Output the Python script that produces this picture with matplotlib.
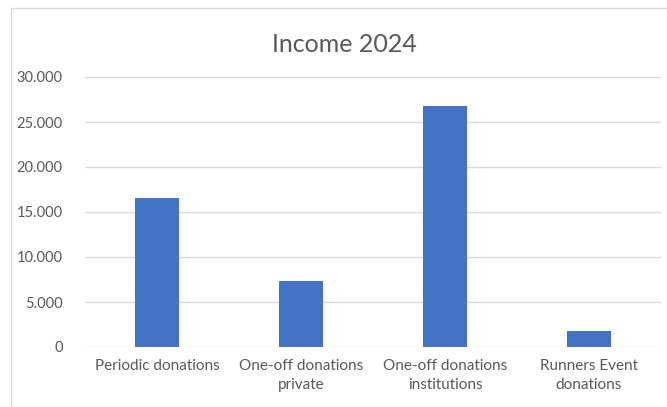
import numpy as np
import matplotlib
matplotlib.use("Agg")
import matplotlib.pyplot as plt
from matplotlib.ticker import FuncFormatter
from matplotlib.patches import Rectangle

# values (EUR)
categories = ["Periodic donations", "One-off donations\nprivate",
              "One-off donations\ninstitutions", "Runners Event\ndonations"]
income = [16600, 7280, 26750, 1800]
yticks = [0, 5000, 10000, 15000, 20000, 25000, 30000]

TEXT = "#595959"
GRID = "#D9D9D9"
BAR = "#4472C4"

plt.rcParams["font.family"] = ["Lato", "DejaVu Sans"]

fig = plt.figure(figsize=(6.67, 4.07), dpi=100)
ax = fig.add_axes([85 / 667, 1 - 347 / 407, 576 / 667, 270 / 407])

x = np.arange(len(categories))
ax.bar(x, income, width=0.31, color=BAR, zorder=3)

ax.set_xlim(-0.5, len(categories) - 0.5)
ax.set_ylim(0, 30000)
ax.set_yticks(yticks)
ax.yaxis.set_major_formatter(FuncFormatter(lambda v, p: f"{int(v):,}".replace(",", ".")))
ax.set_xticks(x)
ax.set_xticklabels(categories, linespacing=1.45)
ax.grid(axis="y", color=GRID, linewidth=1.0, zorder=0)
ax.tick_params(axis="y", length=0, colors=TEXT, labelsize=10.5, pad=16)
ax.tick_params(axis="x", length=0, colors=TEXT, labelsize=11, pad=9)
for s in ax.spines.values():
    s.set_visible(False)

ax.set_title("Income 2024", color=TEXT, fontsize=18, pad=18, x=(344 - 85) / 576)

# chart-area frame (cropped on right and bottom in the reference)
fig.patches.append(Rectangle((11 / 667, -0.1), 1.2, 1 - 8 / 407 + 0.1,
                             transform=fig.transFigure, fill=False,
                             edgecolor="#D9D9D9", linewidth=1.0))

fig.savefig("out.png", dpi=100)
